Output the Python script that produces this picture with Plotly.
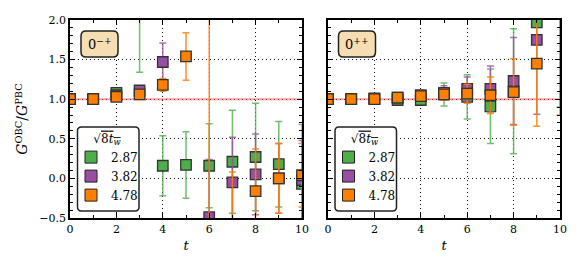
import plotly.graph_objects as go

t = [0, 1, 2, 3, 4, 5, 6, 7, 8, 9, 10]
series_names = ["2.87", "3.82", "4.78"]
colors = ["#4daf4a", "#984ea3", "#ff7f00"]
err_colors = ["rgba(77,175,74,0.8)", "rgba(152,78,163,0.8)", "rgba(255,127,0,0.85)"]

# Left panel: 0^{-+}
green_L = [1.00, 1.00, 1.08, 2.60, 0.16, 0.17, 0.16, 0.21, 0.27, 0.18, -0.07]
green_L_err = [0.01, 0.02, 0.04, 1.26, 0.38, 0.42, 0.53, 0.65, 0.68, 0.54, 0.75]
purple_L = [1.00, 1.00, 1.05, 1.11, 1.47, None, -0.49, -0.05, 0.05, 0.00, -0.02]
purple_L_err = [0.01, 0.02, 0.04, 0.06, 0.24, 0.0, 0.73, 0.57, 0.51, 0.44, 0.50]
orange_L = [1.00, 1.00, 1.03, 1.06, 1.18, 1.54, -1.20, -0.80, -0.16, 0.00, 0.04]
orange_L_err = [0.01, 0.02, 0.03, 0.05, 0.08, 0.30, 4.00, 0.88, 0.53, 0.44, 0.40]

# Right panel: 0^{++}
green_R = [1.00, 1.00, 1.00, 0.99, 0.99, 1.06, 1.03, 0.91, 1.10, 1.97, 2.40]
green_R_err = [0.01, 0.01, 0.02, 0.03, 0.05, 0.145, 0.28, 0.47, 0.79, 0.05, 1.50]
purple_R = [1.00, 1.00, 1.01, 1.02, 1.05, 1.08, 1.13, 1.13, 1.23, 1.75, None]
purple_R_err = [0.01, 0.01, 0.02, 0.03, 0.04, 0.09, 0.15, 0.29, 0.55, 0.94, 0.0]
orange_R = [1.00, 1.00, 1.00, 1.02, 1.04, 1.06, 1.07, 1.05, 1.09, 1.45, 2.60]
orange_R_err = [0.01, 0.01, 0.02, 0.03, 0.04, 0.07, 0.12, 0.23, 0.42, 0.79, 1.80]

panel_labels = ["0<sup>−+</sup>", "0<sup>++</sup>"]
legend_title = "√<span style='text-decoration:overline'>8<i>t</i><sub><i>w</i></sub></span>"

FONT = "DejaVu Serif"
W, H = 581, 270
ML, MR, MT, MB = 70, 21, 20, 52
PW, PH = W - ML - MR, H - MT - MB

def px2paper(px, py):
    return (px - ML) / PW, (H - MB - py) / PH

def rounded_rect(x0, y0, x1, y1, r):
    def P(x, y):
        a, b = px2paper(x, y)
        return f"{a:.5f},{b:.5f}"
    return (f"M{P(x0 + r, y0)} L{P(x1 - r, y0)} Q{P(x1, y0)} {P(x1, y0 + r)} "
            f"L{P(x1, y1 - r)} Q{P(x1, y1)} {P(x1 - r, y1)} L{P(x0 + r, y1)} "
            f"Q{P(x0, y1)} {P(x0, y1 - r)} L{P(x0, y0 + r)} Q{P(x0, y0)} {P(x0 + r, y0)} Z")

fig = go.Figure()

panels = [
    ("x", "y", [(green_L, green_L_err), (purple_L, purple_L_err), (orange_L, orange_L_err)], "legend"),
    ("x2", "y2", [(green_R, green_R_err), (purple_R, purple_R_err), (orange_R, orange_R_err)], "legend2"),
]

for xa, ya, data, leg in panels:
    fig.add_trace(go.Scatter(x=[t[0], t[-1]], y=[1, 1], mode="lines", xaxis=xa, yaxis=ya,
                             line=dict(color="rgba(240,70,70,0.5)", width=2),
                             showlegend=False, hoverinfo="skip"))
    for (vals, errs), name, c, ec in zip(data, series_names, colors, err_colors):
        fig.add_trace(go.Scatter(
            x=t, y=vals, mode="markers", xaxis=xa, yaxis=ya, showlegend=False,
            marker=dict(symbol="square", size=10.5, color=c, line=dict(color="#333333", width=1.3)),
            error_y=dict(type="data", array=errs, visible=True, color=ec, thickness=1.5, width=3.5),
        ))
    for name, c in zip(series_names, colors):
        fig.add_trace(go.Scatter(
            x=[None], y=[None], mode="markers", xaxis=xa, yaxis=ya, name=name, legend=leg,
            marker=dict(symbol="square", size=12, color=c, line=dict(color="#222222", width=1)),
        ))

axis_common = dict(
    showline=True, linecolor="black", linewidth=1.5, mirror="allticks",
    ticks="inside", ticklen=5, tickwidth=1, tickcolor="black",
    showgrid=True, gridcolor="#111111", griddash="1px,3px", gridwidth=1.2,
    zeroline=False, tickfont=dict(family=FONT, size=11, color="black"),
)

gap = 26 / PW
minor_x = dict(dtick=1, ticks="inside", ticklen=3, tickcolor="black", showgrid=False)
minor_y = dict(dtick=0.1, ticks="inside", ticklen=3, tickcolor="black", showgrid=False)
fig.update_layout(
    width=W, height=H, margin=dict(l=ML, r=MR, t=MT, b=MB),
    paper_bgcolor="white", plot_bgcolor="white",
    font=dict(family=FONT, color="black"),
    xaxis=dict(domain=[0, 0.5 - gap / 2], range=[0, 10], dtick=2, tick0=0, minor=minor_x,
               title=dict(text="<i>t</i>", font=dict(family=FONT, size=13), standoff=6),
               anchor="y", **axis_common),
    xaxis2=dict(domain=[0.5 + gap / 2, 1], range=[0, 10], dtick=2, tick0=0, minor=minor_x,
                title=dict(text="<i>t</i>", font=dict(family=FONT, size=13), standoff=6),
                anchor="y2", **axis_common),
    yaxis=dict(range=[-0.5, 2.0], dtick=0.5, tick0=0, tickformat=".1f", minor=minor_y,
               title=dict(text="<i>G</i><sup>OBC</sup>/<i>G</i><sup>PBC</sup>",
                          font=dict(family=FONT, size=14), standoff=8),
               anchor="x", **axis_common),
    yaxis2=dict(range=[-0.5, 2.0], dtick=0.5, tick0=0, showticklabels=False, minor=minor_y,
                anchor="x2", **axis_common),
    legend=dict(x=px2paper(71, 0)[0], y=px2paper(0, 127)[1], xanchor="left", yanchor="top",
                bgcolor="rgba(0,0,0,0)", borderwidth=0,
                font=dict(family=FONT, size=12), itemwidth=30, tracegroupgap=0,
                title=dict(text=legend_title, side="top center", font=dict(family=FONT, size=12))),
    legend2=dict(x=px2paper(328.5, 0)[0], y=px2paper(0, 127)[1], xanchor="left", yanchor="top",
                 bgcolor="rgba(0,0,0,0)", borderwidth=0,
                 font=dict(family=FONT, size=12), itemwidth=30, tracegroupgap=0,
                 title=dict(text=legend_title, side="top center", font=dict(family=FONT, size=12))),
)

shapes = []
annotations = []
for off, label in zip([0, 257.5], panel_labels):
    shapes.append(dict(type="path", xref="paper", yref="paper", layer="above",
                       path=rounded_rect(81 + off, 31, 118 + off, 57, 5),
                       fillcolor="#f5deb3", line=dict(color="#222222", width=1.5)))
    cx, cy = px2paper(99.5 + off, 44)
    annotations.append(dict(x=cx, y=cy, xref="paper", yref="paper", text=label, showarrow=False,
                            xanchor="center", yanchor="middle",
                            font=dict(family=FONT, size=13, color="black")))
    shapes.append(dict(type="path", xref="paper", yref="paper", layer="above",
                       path=rounded_rect(77.5 + off, 127, 139 + off, 211, 4),
                       fillcolor="white", line=dict(color="#222222", width=1.5)))

fig.update_layout(shapes=shapes, annotations=annotations)
fig.write_html("out.html", config={"displayModeBar": False},
               post_script="document.body.style.margin='0';document.body.style.overflow='hidden';")
